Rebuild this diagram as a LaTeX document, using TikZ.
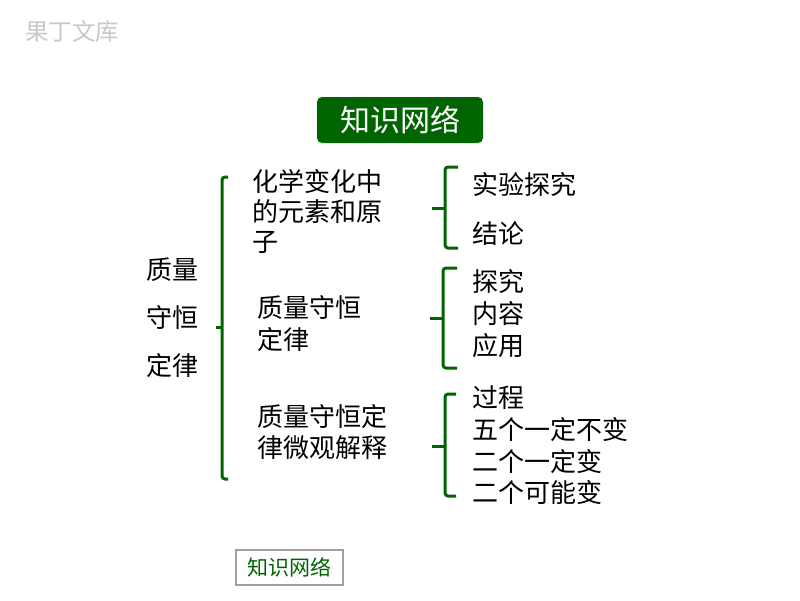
\documentclass[tikz,border=0pt]{standalone}
\usepackage{fontspec}
\newfontfamily\cjk{Noto Sans CJK SC}
\definecolor{dgreen}{RGB}{0,100,0}
\definecolor{wmgray}{RGB}{200,200,200}
\definecolor{boxgray}{RGB}{160,160,160}
\begin{document}
\begin{tikzpicture}[x=1pt,y=-1pt,
  txt/.style={anchor=west,inner sep=0pt,font=\cjk\fontsize{26}{30}\selectfont},
  brace/.style={draw=dgreen,line width=3pt,rounded corners=3pt},
  tipline/.style={draw=dgreen,line width=3pt}]
\useasboundingbox (0,0) rectangle (800,600);
\fill[white] (0,0) rectangle (800,600);
% watermark
\node[anchor=west,inner sep=0pt,text=wmgray,font=\cjk\fontsize{23.5}{26}\selectfont] (wm) at (25,32) {果丁文库};
% title
\node[fill=dgreen,rounded corners=5pt,minimum width=166pt,minimum height=46pt,inner sep=0pt,text=white,font=\cjk\fontsize{30}{32}\selectfont] (title) at (400,120) {知识网络};
% left label
\node[txt] (l1) at (146,270) {质量};
\node[txt] (l2) at (146,318) {守恒};
\node[txt] (l3) at (146,366) {定律};
% big brace
\coordinate (bt) at (228,177);
\coordinate (bb) at (228,479);
\coordinate (bm) at (222,327);
\coordinate (btip) at (216,327);
\draw[brace] (bt) -- (222,177) -- (222,479) -- (bb);
\draw[tipline] (bm) -- (btip);
% middle column
\node[txt] (a1) at (252,182) {化学变化中};
\node[txt] (a2) at (252,212) {的元素和原};
\node[txt] (a3) at (252,242) {子};
\node[txt] (b1) at (257,308) {质量守恒};
\node[txt] (b2) at (257,340) {定律};
\node[txt] (c1) at (257,417) {质量守恒定};
\node[txt] (c2) at (257,448) {律微观解释};
% brace 1
\coordinate (t1) at (458,167);
\coordinate (e1) at (458,248);
\draw[brace] (t1) -- (445,167) -- (445,248) -- (e1);
\draw[tipline] (445,208) -- (432,208);
% brace 2
\coordinate (t2) at (457,268);
\coordinate (e2) at (457,368);
\draw[brace] (t2) -- (443,268) -- (443,368) -- (e2);
\draw[tipline] (443,318) -- (430,318);
% brace 3
\coordinate (t3) at (456,394);
\coordinate (e3) at (456,496);
\draw[brace] (t3) -- (445,394) -- (445,496) -- (e3);
\draw[tipline] (445,446) -- (432,446);
% right column
\node[txt] (r1) at (472,185) {实验探究};
\node[txt] (r2) at (472,234) {结论};
\node[txt] (r3) at (472,282) {探究};
\node[txt] (r4) at (472,314) {内容};
\node[txt] (r5) at (472,346) {应用};
\node[txt] (r6) at (472,398) {过程};
\node[txt] (r7) at (472,430) {五个一定不变};
\node[txt] (r8) at (472,462) {二个一定变};
\node[txt] (r9) at (472,493) {二个可能变};
% bottom box
\node[draw=boxgray,line width=1.5pt,minimum width=107pt,minimum height=35pt,inner sep=0pt,text=dgreen,font=\cjk\fontsize{21}{24}\selectfont] (bottom) at (289.5,567.5) {知识网络};
\end{tikzpicture}
\end{document}
